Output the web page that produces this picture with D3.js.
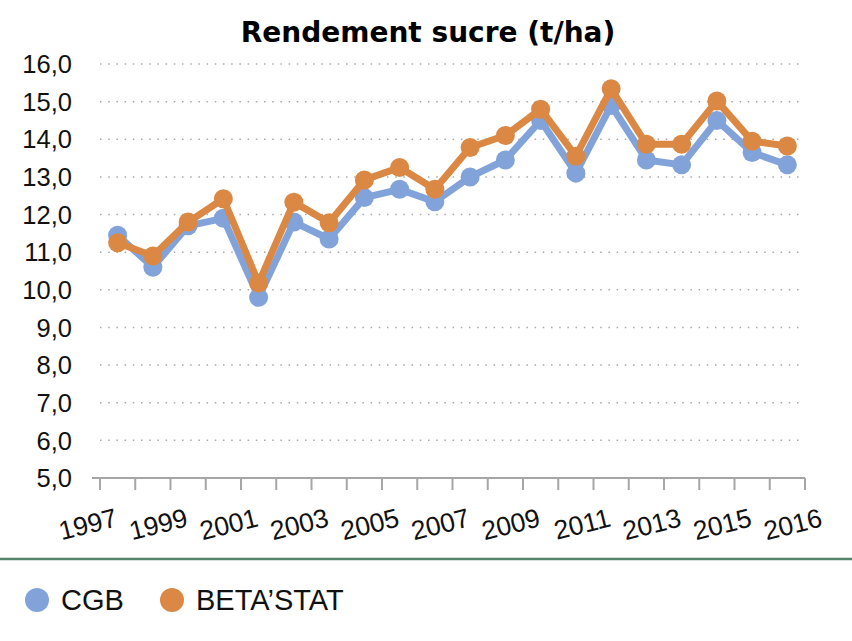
<!DOCTYPE html>
<html>
<head>
<meta charset="utf-8">
<script src="https://cdn.jsdelivr.net/npm/d3@7/dist/d3.min.js"></script>
<style>
  html, body { margin: 0; padding: 0; background: #fff; }
  svg { display: block; }
</style>
</head>
<body>
<script>
const title = "Rendement sucre (t/ha)";
const years = [1997,1998,1999,2000,2001,2002,2003,2004,2005,2006,2007,2008,2009,2010,2011,2012,2013,2014,2015,2016];
const cgb = [11.45,10.6,11.7,11.9,9.8,11.8,11.35,12.45,12.67,12.34,13.0,13.45,14.5,13.1,14.9,13.45,13.32,14.5,13.65,13.32];
const betastat = [11.25,10.9,11.8,12.42,10.18,12.33,11.78,12.92,13.25,12.67,13.78,14.1,14.8,13.55,15.34,13.87,13.87,15.02,13.95,13.82];
const yTicks = [5,6,7,8,9,10,11,12,13,14,15,16];
const xLabelSlots = [0,2,4,6,8,10,12,14,16,18,20];
const xLabels = ["1997","1999","2001","2003","2005","2007","2009","2011","2013","2015","2016"];
const seriesNames = ["CGB","BETA\u2019STAT"];
const colors = ["#82A3DA","#DA8843"];

const W = 852, H = 641;
const plotLeft = 100, plotRight = 805, plotTop = 64, plotBottom = 478;

const svg = d3.select("body").append("svg").attr("width", W).attr("height", H);

const x = d3.scaleLinear().domain([0, years.length]).range([plotLeft, plotRight]);
const y = d3.scaleLinear().domain([5, 16]).range([plotBottom, plotTop]);
const cx = i => x(i + 0.5);

// title
svg.append("text").attr("x", 428).attr("y", 42).attr("text-anchor", "middle")
  .style("font-family", "'DejaVu Sans', sans-serif").style("font-weight", "bold")
  .style("font-size", "28px").attr("fill", "#000").text(title);

// gridlines
svg.append("g").selectAll("line").data(yTicks.filter(d => d > 5)).join("line")
  .attr("x1", plotLeft).attr("x2", plotRight)
  .attr("y1", d => y(d)).attr("y2", d => y(d))
  .attr("stroke", "#a9a9a9").attr("stroke-width", 1.5)
  .attr("stroke-dasharray", "1.5 6.7");

// y labels
svg.append("g").selectAll("text").data(yTicks).join("text")
  .attr("x", 72).attr("y", d => y(d)).attr("dy", "0.36em")
  .attr("text-anchor", "end")
  .style("font-family", "'Liberation Sans', Arial, sans-serif").style("font-size", "25.5px")
  .attr("fill", "#111")
  .text(d => d.toFixed(1).replace(".", ","));

// x axis line & ticks
svg.append("line").attr("x1", 92).attr("x2", plotRight).attr("y1", y(5)).attr("y2", y(5))
  .attr("stroke", "#a6a6a6").attr("stroke-width", 2.2);
svg.append("g").selectAll("line").data(d3.range(years.length + 1)).join("line")
  .attr("x1", d => x(d)).attr("x2", d => x(d))
  .attr("y1", y(5)).attr("y2", y(5) + 12)
  .attr("stroke", "#a6a6a6").attr("stroke-width", 2);

// x labels
svg.append("g").selectAll("text").data(xLabelSlots).join("text")
  .attr("transform", d => `translate(${cx(d) + 1},${y(5) + 48}) rotate(-14)`)
  .attr("text-anchor", "end")
  .style("font-family", "'Liberation Sans', Arial, sans-serif").style("font-size", "26.5px")
  .attr("fill", "#111")
  .text((d, i) => xLabels[i]);

// series
const allSeries = [cgb, betastat];
const line = d3.line().x((d, i) => cx(i)).y(d => y(d));
allSeries.forEach((s, k) => {
  const g = svg.append("g");
  g.append("path").datum(s).attr("d", line).attr("fill", "none")
    .attr("stroke", colors[k]).attr("stroke-width", 7).attr("stroke-linejoin", "round");
  g.selectAll("circle").data(s).join("circle")
    .attr("cx", (d, i) => cx(i)).attr("cy", d => y(d)).attr("r", 9.5)
    .attr("fill", colors[k]);
});

// separator
svg.append("line").attr("x1", 0).attr("x2", W).attr("y1", 559).attr("y2", 559)
  .attr("stroke", "#55846A").attr("stroke-width", 2.5);

// legend
const legX = [37, 172];
seriesNames.forEach((n, k) => {
  svg.append("circle").attr("cx", legX[k]).attr("cy", 600).attr("r", 12).attr("fill", colors[k]);
  svg.append("text").attr("x", legX[k] + 24).attr("y", 600).attr("dy", "0.36em")
    .style("font-family", "'Liberation Sans', Arial, sans-serif").style("font-size", "29px")
    .attr("fill", "#111").text(n);
});
</script>
</body>
</html>
